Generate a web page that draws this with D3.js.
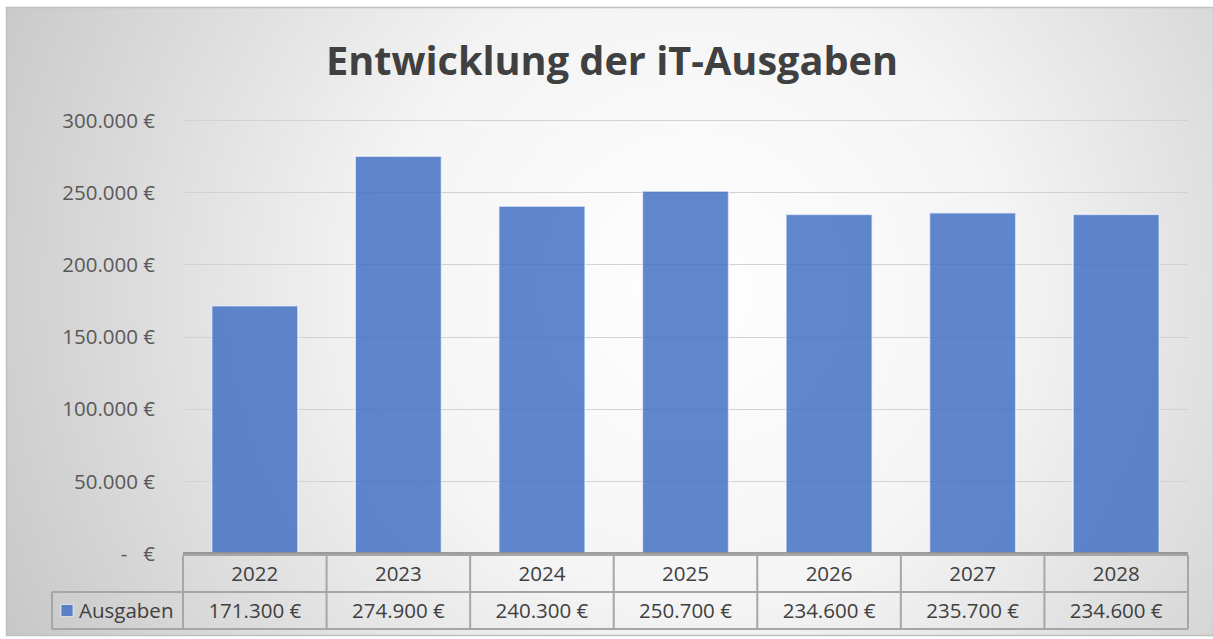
<!DOCTYPE html>
<html>
<head>
<meta charset="utf-8">
<script src="https://cdn.jsdelivr.net/npm/d3@7"></script>
<style>
  html, body { margin: 0; padding: 0; background: #fff; }
  svg { display: block; font-family: "Open Sans", "Noto Sans", sans-serif; }
</style>
</head>
<body>
<svg id="chart" width="1213" height="639"></svg>
<script>
// Entwicklung der iT-Ausgaben - column chart with data table underneath

const years = ['2022', '2023', '2024', '2025', '2026', '2027', '2028'];
const ausgaben = [171300, 274900, 240300, 250700, 234600, 235700, 234600];
const yTicks = [0, 50000, 100000, 150000, 200000, 250000, 300000];
const seriesName = 'Ausgaben';
const title = 'Entwicklung der iT-Ausgaben';

const W = 1213, H = 639;
const plot = { left: 183, right: 1188, top: 120, bottom: 553 };
const rowH = 37;
const legendLeft = 52;
const fs = 20.5; // label font size

const svg = d3.select('#chart');

// background: soft radial gradient like the Excel chart style
const defs = svg.append('defs');
const grad = defs.append('radialGradient')
    .attr('id', 'bg')
    .attr('cx', 0.57).attr('cy', 0.45).attr('r', 0.75)
    .attr('gradientTransform', 'translate(0.57,0.45) scale(1,1.9) translate(-0.57,-0.45)');
grad.append('stop').attr('offset', '0%').attr('stop-color', '#ffffff');
grad.append('stop').attr('offset', '35%').attr('stop-color', '#f4f4f4');
grad.append('stop').attr('offset', '100%').attr('stop-color', '#bababa');

svg.append('rect')
    .attr('x', 6.5).attr('y', 7.5)
    .attr('width', W - 6).attr('height', H - 11)
    .attr('fill', 'url(#bg)')
    .attr('stroke', '#bfbfbf')
    .attr('stroke-width', 1.5);

// title
const titleText = svg.append('text')
    .attr('x', 612).attr('y', 75)
    .attr('text-anchor', 'middle')
    .attr('font-size', 40)
    .attr('font-weight', 700)
    .attr('fill', '#404040')
    .text(title);
const tl = titleText.node().getComputedTextLength();
if (tl > 575) titleText.attr('textLength', 572).attr('lengthAdjust', 'spacingAndGlyphs');

// scales
const x = d3.scaleBand()
    .domain(years)
    .range([plot.left, plot.right])
    .paddingInner(0.4)
    .paddingOuter(0.2);

const colX = d3.scaleBand()
    .domain(years)
    .range([plot.left, plot.right]);

const y = d3.scaleLinear()
    .domain([0, 300000])
    .range([plot.bottom, plot.top]);

const fmtNum = d3.formatLocale({ decimal: ',', thousands: '.', grouping: [3], currency: ['', ' €'] });
const euro = v => v === 0 ? '-   €' : fmtNum.format(',.0f')(v) + ' €';

// gridlines
svg.append('g')
    .selectAll('line')
    .data(yTicks.filter(d => d > 0))
    .join('line')
    .attr('x1', plot.left).attr('x2', plot.right)
    .attr('y1', d => Math.round(y(d)) + 0.5)
    .attr('y2', d => Math.round(y(d)) + 0.5)
    .attr('stroke', '#d2d2d2')
    .attr('stroke-width', 1.2);

// y axis labels
const yAxis = svg.append('g')
    .attr('transform', `translate(${plot.left},0)`)
    .call(d3.axisLeft(y).tickValues(yTicks).tickSize(0).tickPadding(28).tickFormat(euro));
yAxis.select('.domain').remove();
yAxis.selectAll('text')
    .attr('font-family', '"Open Sans", sans-serif')
    .attr('font-size', fs)
    .attr('fill', '#595959')
    .attr('dy', '0.35em')
    .attr('xml:space', 'preserve')
    .style('white-space', 'pre');

// bars
svg.append('g')
    .selectAll('rect')
    .data(ausgaben)
    .join('rect')
    .attr('x', (d, i) => x(years[i]))
    .attr('y', d => y(d))
    .attr('width', x.bandwidth())
    .attr('height', d => plot.bottom - y(d))
    .attr('fill', '#4472c4')
    .attr('fill-opacity', 0.85)
    .attr('stroke', '#ffffff')
    .attr('stroke-opacity', 0.6)
    .attr('stroke-width', 1.5);

// data table
const table = svg.append('g').attr('class', 'data-table');
const r1 = plot.bottom + 2, r2 = r1 + rowH, r3 = r2 + rowH;
const lineColor = '#a6a6a6';

// horizontal rules
table.append('line').attr('x1', plot.left).attr('x2', plot.right)
    .attr('y1', r1).attr('y2', r1).attr('stroke', lineColor).attr('stroke-width', 2);
table.append('line').attr('x1', legendLeft).attr('x2', plot.right)
    .attr('y1', r2).attr('y2', r2).attr('stroke', lineColor).attr('stroke-width', 2);
table.append('line').attr('x1', legendLeft).attr('x2', plot.right)
    .attr('y1', r3).attr('y2', r3).attr('stroke', lineColor).attr('stroke-width', 2);

// vertical rules
const colEdges = years.map(d => colX(d)).concat([plot.right]);
table.selectAll('line.v')
    .data(colEdges)
    .join('line')
    .attr('class', 'v')
    .attr('x1', d => d).attr('x2', d => d)
    .attr('y1', r1).attr('y2', r3)
    .attr('stroke', lineColor).attr('stroke-width', 2);
table.append('line').attr('x1', legendLeft).attr('x2', legendLeft)
    .attr('y1', r2).attr('y2', r3).attr('stroke', lineColor).attr('stroke-width', 2);

// axis line on top of table
svg.append('line').attr('x1', plot.left).attr('x2', plot.right)
    .attr('y1', plot.bottom).attr('y2', plot.bottom)
    .attr('stroke', '#808080').attr('stroke-width', 1.5);

// header row: years
table.selectAll('text.year')
    .data(years)
    .join('text')
    .attr('class', 'year')
    .attr('x', d => colX(d) + colX.bandwidth() / 2)
    .attr('y', (r1 + r2) / 2)
    .attr('dy', '0.36em')
    .attr('text-anchor', 'middle')
    .attr('font-size', fs)
    .attr('fill', '#404040')
    .text(d => d);

// value row
table.selectAll('text.val')
    .data(ausgaben)
    .join('text')
    .attr('class', 'val')
    .attr('x', (d, i) => colX(years[i]) + colX.bandwidth() / 2)
    .attr('y', (r2 + r3) / 2)
    .attr('dy', '0.36em')
    .attr('text-anchor', 'middle')
    .attr('font-size', fs)
    .attr('fill', '#404040')
    .text(d => euro(d));

// legend key + series name
table.append('rect')
    .attr('x', 61).attr('y', (r2 + r3) / 2 - 6)
    .attr('width', 12).attr('height', 12)
    .attr('fill', '#4472c4').attr('fill-opacity', 0.85)
    .attr('stroke', '#ffffff').attr('stroke-opacity', 0.6);
table.append('text')
    .attr('x', 79).attr('y', (r2 + r3) / 2)
    .attr('dy', '0.36em')
    .attr('font-size', fs)
    .attr('fill', '#404040')
    .text(seriesName);
</script>
</body>
</html>
